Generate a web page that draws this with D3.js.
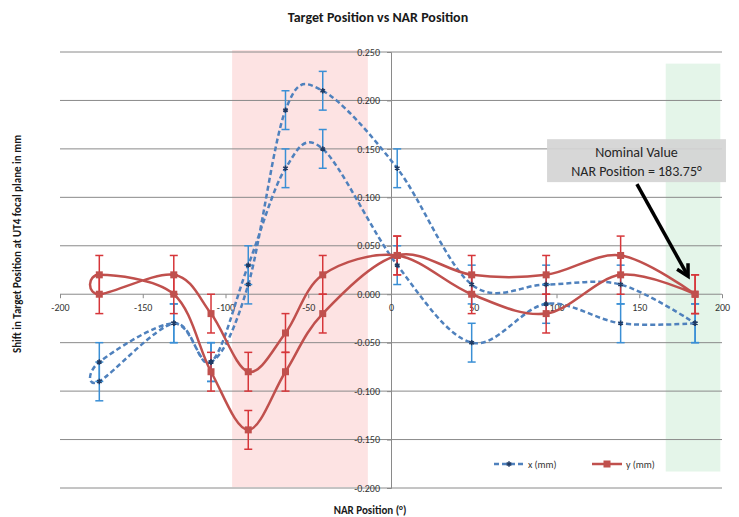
<!DOCTYPE html>
<html>
<head>
<meta charset="utf-8">
<script src="https://cdn.jsdelivr.net/npm/d3@7"></script>
<style>
body { margin: 0; background: #fff; }
text { font-family: Carlito, Lato, "Liberation Sans", sans-serif; }
</style>
</head>
<body>
<div id="chart"></div>
<script>
// NAR positions visited (out from the nominal position and back again)
const narPosition = [183.75, 138.75, 93.75, 48.75, 3.75, -41.25, -63.75, -86.25, -108.75, -131.25, -176.25,
                     -176.25, -131.25, -108.75, -86.25, -63.75, -41.25, 3.75, 48.75, 93.75, 138.75, 183.75];
const xShift = [-0.03, -0.03, -0.01, -0.05, 0.03, 0.15, 0.13, 0.03, -0.07, -0.03, -0.09,
                -0.07, -0.03, -0.07, 0.01, 0.19, 0.21, 0.13, 0.01, 0.01, 0.01, -0.03];
const yShift = [0.00, 0.04, 0.02, 0.02, 0.04, -0.02, -0.08, -0.14, -0.08, 0.00, 0.02,
                0.00, 0.02, -0.02, -0.08, -0.04, 0.02, 0.04, 0.00, -0.02, 0.02, 0.00];
const errorSize = 0.02;
const seriesNames = ["x (mm)", "y (mm)"];
const xTicks = [-200, -150, -100, -50, 0, 50, 100, 150, 200];
const yTicks = [-0.2, -0.15, -0.1, -0.05, 0, 0.05, 0.1, 0.15, 0.2, 0.25];
const redZone = [-96, -14];
const greenZone = [166, 199];
const noteLines = ["Nominal Value", "NAR Position = 183.75°"];

const width = 739, height = 517;
const blue = "#4f81bd", red = "#c0504d";
const fmt3 = d3.format(".3f");

const svg = d3.select("#chart")
      .append("svg")
      .attr("width", width)
      .attr("height", height);

const x = d3.scaleLinear().domain([-200, 200]).range([60, 722]);
const y = d3.scaleLinear().domain([-0.2, 0.25]).range([488, 52]);

// highlighted areas
svg.append("rect")
    .attr("x", x(redZone[0])).attr("width", x(redZone[1]) - x(redZone[0]))
    .attr("y", y(0.252)).attr("height", y(-0.199) - y(0.252))
    .attr("fill", "#fde3e3");
svg.append("rect")
    .attr("x", x(greenZone[0])).attr("width", x(greenZone[1]) - x(greenZone[0]))
    .attr("y", y(0.238)).attr("height", y(-0.183) - y(0.238))
    .attr("fill", "#e4f5e9");

// horizontal gridlines
svg.selectAll("line.grid")
    .data(yTicks)
    .enter()
    .append("line")
    .attr("class", "grid")
    .attr("x1", x(-200)).attr("x2", x(200))
    .attr("y1", d => y(d)).attr("y2", d => y(d))
    .attr("stroke", "#8a8a8a")
    .attr("stroke-width", 1);

// y axis through x = 0
const yAxis = svg.append("g")
    .attr("transform", `translate(${x(0)},0)`)
    .call(d3.axisLeft(y).tickValues(yTicks)
        .tickFormat(d => fmt3(d).replace("\u2212", "-"))
        .tickSize(4).tickPadding(7));
yAxis.select(".domain").attr("stroke", "#8a8a8a");
yAxis.selectAll(".tick line").attr("stroke", "#8a8a8a");
yAxis.selectAll("text").attr("font-size", 10).attr("fill", "#333")
    .attr("font-family", "Carlito, Lato, 'Liberation Sans', sans-serif");

// x axis through y = 0
const xAxis = svg.append("g")
    .attr("transform", `translate(0,${y(0)})`)
    .call(d3.axisBottom(x).tickValues(xTicks)
        .tickFormat(d => String(d).replace("\u2212", "-"))
        .tickSize(4).tickPadding(6));
xAxis.select(".domain").remove();
xAxis.selectAll(".tick line").attr("stroke", "#8a8a8a");
xAxis.selectAll("text").attr("font-size", 10).attr("fill", "#333")
    .attr("font-family", "Carlito, Lato, 'Liberation Sans', sans-serif");

// titles
svg.append("text")
    .attr("x", 378).attr("y", 22)
    .attr("text-anchor", "middle")
    .attr("font-size", 14).attr("font-weight", "bold").attr("fill", "#1a1a1a")
    .text("Target Position vs NAR Position");
svg.append("text")
    .attr("transform", "translate(21,244) rotate(-90)")
    .attr("text-anchor", "middle")
    .attr("font-size", 11).attr("font-weight", "bold").attr("fill", "#1a1a1a")
    .text("Shift in Target Position at UT4 focal plane in  mm");
svg.append("text")
    .attr("x", 370).attr("y", 514)
    .attr("text-anchor", "middle")
    .attr("font-size", 11).attr("font-weight", "bold").attr("fill", "#1a1a1a")
    .text("NAR Position (°)");

const smooth = d3.line()
    .x(d => x(d[0]))
    .y(d => y(d[1]))
    .curve(d3.curveCardinal.tension(0));

const series = [
    { name: seriesNames[0], values: xShift, color: blue, err: "#3a8fd5", dash: "5,3" },
    { name: seriesNames[1], values: yShift, color: red, err: "#d6363a", dash: null }
];

series.forEach(function (s) {
    const pts = narPosition.map((p, i) => [p, s.values[i]]);

    svg.append("path")
        .attr("d", smooth(pts))
        .attr("fill", "none")
        .attr("stroke", s.color)
        .attr("stroke-width", 2.5)
        .attr("stroke-dasharray", s.dash);

    const bars = svg.append("g");
    bars.selectAll("line.bar")
        .data(pts).enter().append("line")
        .attr("x1", d => x(d[0])).attr("x2", d => x(d[0]))
        .attr("y1", d => y(d[1] + errorSize)).attr("y2", d => y(d[1] - errorSize))
        .attr("stroke", s.err).attr("stroke-width", 1.5);
    [errorSize, -errorSize].forEach(function (e) {
        bars.selectAll(null)
            .data(pts).enter().append("line")
            .attr("x1", d => x(d[0]) - 4).attr("x2", d => x(d[0]) + 4)
            .attr("y1", d => y(d[1] + e)).attr("y2", d => y(d[1] + e))
            .attr("stroke", s.err).attr("stroke-width", 1.5);
    });
    s.pts = pts;
});

// markers
svg.selectAll("path.xmark")
    .data(series[0].pts).enter().append("path")
    .attr("class", "xmark")
    .attr("transform", d => `translate(${x(d[0])},${y(d[1])})`)
    .attr("d", d3.symbol(d3.symbolAsterisk, 20))
    .attr("fill", "none").attr("stroke", "#1f3a63").attr("stroke-width", 1.5);
svg.selectAll("rect.ymark")
    .data(series[1].pts).enter().append("rect")
    .attr("class", "ymark")
    .attr("x", d => x(d[0]) - 3.5).attr("y", d => y(d[1]) - 3.5)
    .attr("width", 7).attr("height", 7)
    .attr("fill", red);

// legend
const legend = svg.append("g").attr("transform", "translate(494,464)");
legend.append("line").attr("x1", 0).attr("x2", 30).attr("stroke", blue)
    .attr("stroke-width", 2.5).attr("stroke-dasharray", "5,3");
legend.append("path").attr("transform", "translate(15,0)")
    .attr("d", d3.symbol(d3.symbolAsterisk, 20))
    .attr("fill", "none").attr("stroke", "#1f3a63").attr("stroke-width", 1.5);
legend.append("text").attr("x", 34).attr("y", 3.5).attr("font-size", 10).attr("fill", "#333")
    .text(seriesNames[0]);
legend.append("line").attr("x1", 98).attr("x2", 128).attr("stroke", red).attr("stroke-width", 2.5);
legend.append("rect").attr("x", 109.5).attr("y", -3.5).attr("width", 7).attr("height", 7).attr("fill", red);
legend.append("text").attr("x", 132).attr("y", 3.5).attr("font-size", 10).attr("fill", "#333")
    .text(seriesNames[1]);

// annotation box and arrow
const bx0 = x(94.3), bx1 = x(202.4), by0 = y(0.160), by1 = y(0.1157);
svg.append("rect")
    .attr("x", bx0).attr("y", by0).attr("width", bx1 - bx0).attr("height", by1 - by0)
    .attr("fill", "#d4d4d4").attr("opacity", 0.92);
svg.selectAll("text.note")
    .data(noteLines).enter().append("text")
    .attr("class", "note")
    .attr("x", (bx0 + bx1) / 2)
    .attr("y", (d, i) => by0 + 18 + i * 19)
    .attr("text-anchor", "middle")
    .attr("font-size", 14).attr("fill", "#262626")
    .text(d => d);

const ax0 = x(148.6), ay0 = y(0.1136), ax1 = x(179.5), ay1 = y(0.0186);
svg.append("line")
    .attr("x1", ax0).attr("y1", ay0).attr("x2", ax1).attr("y2", ay1)
    .attr("stroke", "#000").attr("stroke-width", 3.5);
const ang = Math.atan2(ay1 - ay0, ax1 - ax0);
const head = [ang + Math.PI * 0.84, ang - Math.PI * 0.84].map(a => [ax1 + 13 * Math.cos(a), ay1 + 13 * Math.sin(a)]);
svg.append("path")
    .attr("d", `M${head[0][0]},${head[0][1]}L${ax1},${ay1}L${head[1][0]},${head[1][1]}`)
    .attr("fill", "none").attr("stroke", "#000").attr("stroke-width", 3.5)
    .attr("stroke-linejoin", "miter");
</script>
</body>
</html>
